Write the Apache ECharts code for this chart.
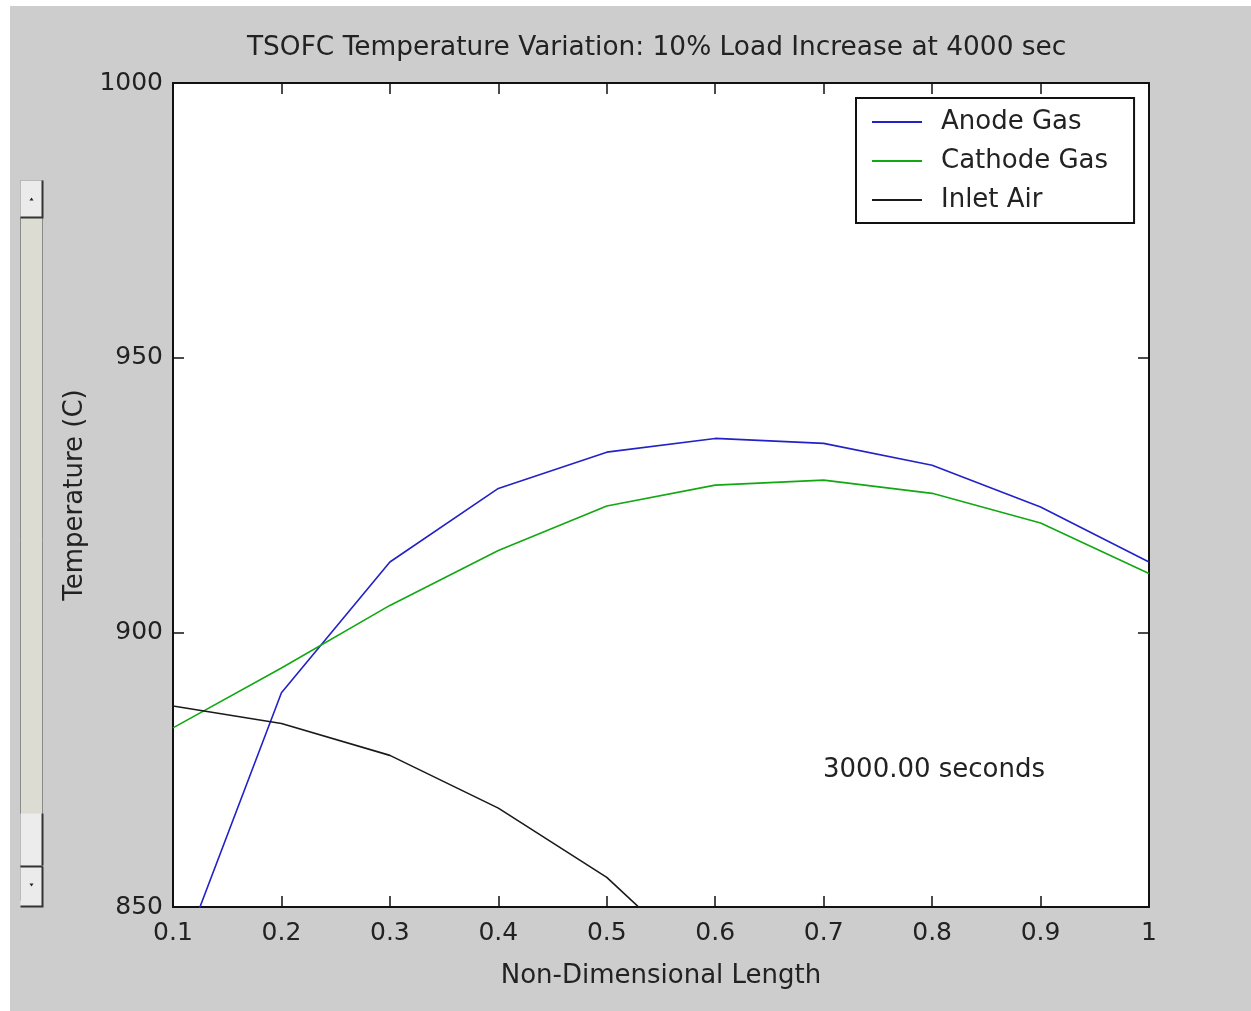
<!DOCTYPE html>
<html>
<head>
<meta charset="utf-8">
<script src="https://cdn.jsdelivr.net/npm/echarts@6/dist/echarts.min.js"></script>
<style>
  html, body { margin: 0; padding: 0; background: #ffffff; }
  #main { position: absolute; left: 10px; top: 6px; width: 1241px; height: 1005px; }
</style>
</head>
<body>
<div id="main"></div>
<script>
// positions along the cell (non-dimensional length)
var lengthPts = [0.1, 0.2, 0.3, 0.4, 0.5, 0.6, 0.7, 0.8, 0.9, 1.0];
// temperatures (C)
var anodeGas   = [837.1, 889.0, 912.8, 926.2, 932.8, 935.3, 934.4, 930.4, 922.8, 912.8];
var cathodeGas = [882.6, 893.5, 904.9, 914.9, 923.0, 926.8, 927.7, 925.3, 919.9, 910.7];
var inletAir   = [886.6, 883.4, 877.6, 868.0, 855.4, 837.0];

function pairs(xs, ys) {
  var out = [];
  for (var i = 0; i < ys.length; i++) out.push([xs[i], ys[i]]);
  return out;
}

var fontName = 'DejaVu Sans';
var axisColor = '#111111';

var myChart = echarts.init(document.getElementById('main'));
myChart.setOption({
  backgroundColor: '#cdcdcd',
  animation: false,
  textStyle: { fontFamily: fontName },
  title: {
    text: 'TSOFC Temperature Variation: 10% Load Increase at 4000 sec',
    left: 232,
    top: 24,
    textStyle: { fontFamily: fontName, fontSize: 26.4, fontWeight: 'normal', color: '#222222' }
  },
  legend: {
    orient: 'vertical',
    left: 846,
    top: 92,
    padding: [11, 26, 10, 16],
    backgroundColor: '#ffffff',
    borderColor: '#111111',
    borderWidth: 2,
    borderRadius: 0,
    itemWidth: 50,
    itemHeight: 2,
    itemGap: 13,
    icon: 'rect',
    textStyle: { fontFamily: fontName, fontSize: 26, color: '#222222', lineHeight: 26, padding: [0, 0, 0, 14] },
    data: ['Anode Gas', 'Cathode Gas', 'Inlet Air']
  },
  grid: {
    left: 163,
    top: 77,
    width: 976,
    height: 824,
    show: true,
    backgroundColor: '#ffffff',
    borderWidth: 0
  },
  xAxis: [
    {
      type: 'value',
      min: 0.1,
      max: 1,
      interval: 0.1,
      name: 'Non-Dimensional Length',
      nameLocation: 'middle',
      nameGap: 56,
      nameTextStyle: { fontFamily: fontName, fontSize: 26, color: '#222222' },
      axisLine: { show: true, onZero: false, lineStyle: { color: axisColor, width: 2 } },
      axisTick: { show: true, inside: true, length: 11, lineStyle: { color: axisColor, width: 1.5 } },
      axisLabel: { fontFamily: fontName, fontSize: 25, color: '#222222', margin: 14 },
      splitLine: { show: false }
    },
    {
      type: 'value',
      position: 'top',
      min: 0.1,
      max: 1,
      interval: 0.1,
      axisLine: { show: true, onZero: false, lineStyle: { color: axisColor, width: 2 } },
      axisTick: { show: true, inside: true, length: 11, lineStyle: { color: axisColor, width: 1.5 } },
      axisLabel: { show: false },
      splitLine: { show: false }
    }
  ],
  yAxis: [
    {
      type: 'value',
      min: 850,
      max: 1000,
      interval: 50,
      name: 'Temperature (C)',
      nameLocation: 'middle',
      nameGap: 81,
      nameTextStyle: { fontFamily: fontName, fontSize: 26, color: '#222222' },
      axisLine: { show: true, onZero: false, lineStyle: { color: axisColor, width: 2 } },
      axisTick: { show: true, inside: true, length: 11, lineStyle: { color: axisColor, width: 1.5 } },
      axisLabel: {
        fontFamily: fontName, fontSize: 25, color: '#222222', margin: 10,
        formatter: function (v) { return String(v); }
      },
      splitLine: { show: false }
    },
    {
      type: 'value',
      position: 'right',
      min: 850,
      max: 1000,
      interval: 50,
      axisLine: { show: true, onZero: false, lineStyle: { color: axisColor, width: 2 } },
      axisTick: { show: true, inside: true, length: 11, lineStyle: { color: axisColor, width: 1.5 } },
      axisLabel: { show: false },
      splitLine: { show: false }
    }
  ],
  series: [
    {
      name: 'Anode Gas',
      type: 'line',
      symbol: 'none',
      clip: true,
      color: '#2222c8',
      lineStyle: { width: 1.6, color: '#2222c8' },
      data: pairs(lengthPts, anodeGas)
    },
    {
      name: 'Cathode Gas',
      type: 'line',
      symbol: 'none',
      clip: true,
      color: '#12a812',
      lineStyle: { width: 1.6, color: '#12a812' },
      data: pairs(lengthPts, cathodeGas)
    },
    {
      name: 'Inlet Air',
      type: 'line',
      symbol: 'none',
      clip: true,
      color: '#1a1a1a',
      lineStyle: { width: 1.6, color: '#1a1a1a' },
      data: pairs(lengthPts, inletAir)
    }
  ],
  graphic: [
    {
      type: 'text',
      left: 813,
      top: 751,
      style: { text: '3000.00 seconds', font: '26px "DejaVu Sans"', fill: '#222222' }
    },
    // scrollbar on the left
    {
      type: 'group',
      left: 8,
      top: 172,
      children: [
        { type: 'rect', shape: { x: 0, y: 0, width: 22, height: 720 }, style: { fill: '#dcdcd2', stroke: '#8a8a8a', lineWidth: 1 } },
        { type: 'rect', shape: { x: 0, y: 0, width: 22, height: 37 }, style: { fill: '#ebebeb', stroke: null } },
        { type: 'polyline', shape: { points: [[0, 37], [22, 37], [22, 0]] }, style: { stroke: '#333333', lineWidth: 2, fill: null } },
        { type: 'polygon', shape: { points: [[9, 20], [13, 20], [11, 17]] }, style: { fill: '#222222' } },
        { type: 'rect', shape: { x: 0, y: 633, width: 22, height: 52 }, style: { fill: '#ececec', stroke: null } },
        { type: 'line', shape: { x1: 22, y1: 633, x2: 22, y2: 685 }, style: { stroke: '#333333', lineWidth: 2 } },
        { type: 'rect', shape: { x: 0, y: 686, width: 22, height: 40 }, style: { fill: '#ebebeb', stroke: null } },
        { type: 'line', shape: { x1: 0, y1: 686, x2: 22, y2: 686 }, style: { stroke: '#333333', lineWidth: 2 } },
        { type: 'polyline', shape: { points: [[0, 726], [22, 726], [22, 686]] }, style: { stroke: '#333333', lineWidth: 2, fill: null } },
        { type: 'polygon', shape: { points: [[9, 703], [13, 703], [11, 706]] }, style: { fill: '#222222' } }
      ]
    }
  ]
});
</script>
</body>
</html>
